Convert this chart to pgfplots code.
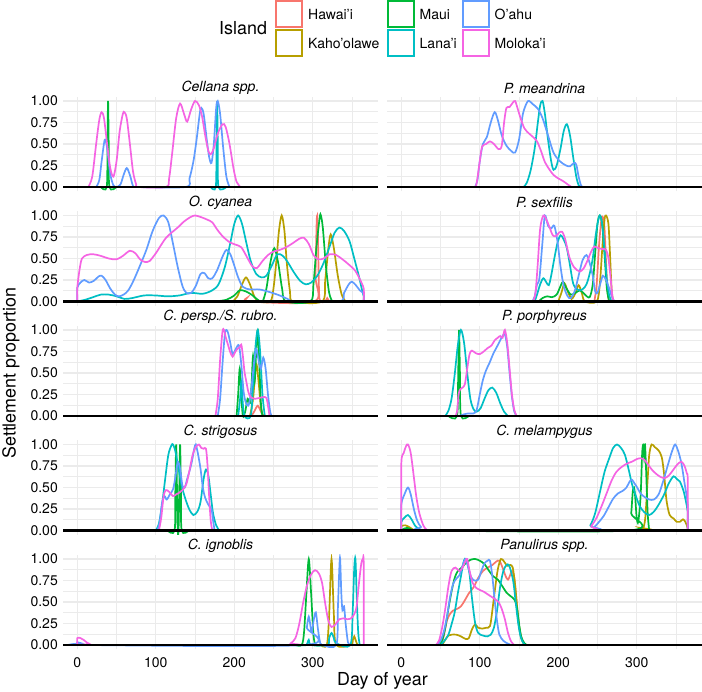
\documentclass[border=0pt]{standalone}
\usepackage{fontspec}
\setmainfont{TeX Gyre Heros}
\usepackage{pgfplots}
\pgfplotsset{compat=1.18}

\definecolor{cHaw}{HTML}{F8766D}
\definecolor{cKah}{HTML}{B79F00}
\definecolor{mauigreen}{HTML}{00BA38}
\definecolor{cLan}{HTML}{00BFC4}
\definecolor{cOah}{HTML}{619CFF}
\definecolor{cMol}{HTML}{F564E3}
\definecolor{gridc}{HTML}{EBEBEB}

\newcommand\tickfont{\fontsize{14}{16}\selectfont}
\newcommand\bigfont{\fontsize{17.9}{20}\selectfont}

\pgfplotsset{
  panel/.style={
    scale only axis, width=315pt, height=94.6pt, anchor=south west,
    xmin=-18.25, xmax=383.25, ymin=-0.05, ymax=1.05,
    axis line style={draw=none}, tick style={draw=none},
    xtick={0,100,200,300}, minor xtick={50,150,250,350},
    ytick={0,0.25,0.5,0.75,1}, minor ytick={0.125,0.375,0.625,0.875},
    xticklabels={}, yticklabels={},
    grid=both,
    major grid style={line width=1.1pt, gridc},
    minor grid style={line width=0.55pt, gridc},
    every axis title shift=0pt,
    title style={at={(0.5,1)}, anchor=center, yshift=8.5pt, font=\tickfont\itshape},
    every axis plot/.append style={line width=1.7pt, smooth, no markers},
  },
  leftcol/.style={yticklabels={0.00,0.25,0.50,0.75,1.00},
    yticklabel style={font=\tickfont, inner sep=0pt, anchor=east, xshift=-5pt}},
  botrow/.style={xticklabels={0,100,200,300},
    xticklabel style={font=\tickfont, inner sep=0pt, anchor=north, yshift=-8.5pt}},
  zeroline/.style={black, line width=2.6pt, sharp plot},
}

\begin{document}
\begin{tikzpicture}
\useasboundingbox (0,0) rectangle (702pt,692pt);

% ---- legend ----
\node[font=\bigfont, anchor=west, inner sep=0pt] at (219pt,663.5pt) {Island};
\fill[cHaw] (275pt,663.5pt) rectangle ++(28pt,28pt);
\fill[cKah] (275pt,634.5pt) rectangle ++(28pt,28pt);
\fill[mauigreen] (386.5pt,663.5pt) rectangle ++(28pt,28pt);
\fill[cLan] (386.5pt,634.5pt) rectangle ++(28pt,28pt);
\fill[cOah] (461.5pt,663.5pt) rectangle ++(28pt,28pt);
\fill[cMol] (461.5pt,634.5pt) rectangle ++(28pt,28pt);
\fill[white] (277pt,665.5pt) rectangle ++(24pt,24pt);
\fill[white] (277pt,636.5pt) rectangle ++(24pt,24pt);
\fill[white] (388.5pt,665.5pt) rectangle ++(24pt,24pt);
\fill[white] (388.5pt,636.5pt) rectangle ++(24pt,24pt);
\fill[white] (463.5pt,665.5pt) rectangle ++(24pt,24pt);
\fill[white] (463.5pt,636.5pt) rectangle ++(24pt,24pt);
\node[font=\tickfont, anchor=west, inner sep=0pt] at (308pt,677.5pt) {Hawai'i};
\node[font=\tickfont, anchor=west, inner sep=0pt] at (308pt,648.5pt) {Kaho'olawe};
\node[font=\tickfont, anchor=west, inner sep=0pt] at (419.5pt,677.5pt) {Maui};
\node[font=\tickfont, anchor=west, inner sep=0pt] at (419.5pt,648.5pt) {Lana'i};
\node[font=\tickfont, anchor=west, inner sep=0pt] at (494.5pt,677.5pt) {O'ahu};
\node[font=\tickfont, anchor=west, inner sep=0pt] at (494.5pt,648.5pt) {Moloka'i};

% ---- row 1 ----
\begin{axis}[panel, leftcol, at={(63pt,500.7pt)}, title={Cellana spp.}]
\addplot[mauigreen] coordinates {(30,0)(37.5,0)(38.4,0.5)(39.2,1.0)(40,0.5)(40.9,0)(50,0)};
\addplot[cLan] coordinates {(170,0)(176.5,0)(177.4,0.5)(178.2,1.0)(179,0.5)(179.9,0)(190,0)};
\addplot[cOah] coordinates {(24,0)(28,0.08)(31,0.3)(35,0.55)(38,0.45)(42,0.15)(46,0.02)(50,0)(55,0.03)(59,0.14)(63,0.22)(67,0.14)(71,0.01)(74,0)(138,0)(143,0.1)(148,0.3)(152,0.55)(156,0.85)(158,0.92)(161,0.85)(165,0.55)(168,0.35)(171,0.28)(174,0.5)(177,0.92)(179,1.0)(182,0.85)(186,0.45)(190,0.12)(194,0)};
\addplot[cMol] coordinates {(14,0)(19,0.12)(24,0.5)(28,0.78)(31,0.87)(34,0.8)(38,0.5)(42,0.22)(46,0.12)(50,0.3)(54,0.65)(58,0.85)(60,0.87)(63,0.8)(67,0.5)(71,0.18)(75,0.03)(78,0)(113,0)(117,0.1)(121,0.4)(126,0.8)(131,0.97)(136,0.85)(140,0.76)(145,0.9)(150,1.0)(155,0.95)(159,0.82)(163,0.6)(167,0.42)(170,0.38)(174,0.45)(179,0.62)(185,0.73)(189,0.7)(194,0.5)(199,0.22)(203,0.06)(208,0)};
\addplot[zeroline] coordinates {(-18.25,0)(383.25,0)};
\end{axis}

\begin{axis}[panel, at={(387pt,500.7pt)}, title={P. meandrina}]
\addplot[cLan] coordinates {(156,0)(160,0.05)(165,0.2)(170,0.45)(174,0.75)(177,0.95)(180,1.0)(183,0.85)(187,0.55)(191,0.3)(194,0.2)(198,0.25)(203,0.45)(207,0.65)(211,0.73)(215,0.6)(219,0.35)(223,0.12)(226,0.02)(229,0)};
\addplot[cOah] coordinates {(94,0)(97,0.08)(100,0.3)(104,0.5)(109,0.58)(114,0.75)(119,0.87)(123,0.78)(128,0.6)(134,0.48)(140,0.42)(145,0.4)(150,0.55)(155,0.85)(160,0.98)(163,1.0)(168,0.96)(174,0.91)(180,0.8)(187,0.6)(194,0.4)(202,0.3)(210,0.25)(215,0.24)(220,0.28)(223,0.26)(226,0.12)(229,0.02)(231,0)};
\addplot[cMol] coordinates {(95,0)(97,0.1)(100,0.3)(103,0.47)(108,0.5)(113,0.53)(118,0.5)(124,0.44)(128,0.48)(131,0.75)(134,0.92)(138,0.93)(142,0.98)(145,1.0)(148,0.92)(152,0.8)(157,0.68)(163,0.62)(168,0.58)(173,0.53)(178,0.42)(183,0.29)(189,0.2)(194,0.14)(200,0.1)(206,0.07)(212,0.03)(217,0)};
\addplot[zeroline] coordinates {(-18.25,0)(383.25,0)};
\end{axis}

% ---- row 2 ----
\begin{axis}[panel, leftcol, at={(63pt,386.2pt)}, title={O. cyanea}]
\addplot[cHaw] coordinates {(213,0)(216,0.04)(219,0)(302,0)(303.5,0.3)(305,0.9)(305.8,1.0)(306.6,0.8)(308,0.15)(309.5,0)(316,0)(318.5,0.04)(321,0)};
\addplot[cKah] coordinates {(198,0)(204,0.06)(210,0.2)(215,0.28)(220,0.2)(226,0.05)(232,0)(246,0)(250,0.15)(254,0.5)(257,0.82)(260.5,1.0)(264,0.82)(267,0.45)(271,0.12)(275,0)(312,0)(316,0.25)(320,0.62)(323,0.78)(327,0.62)(332,0.3)(337,0.08)(342,0)};
\addplot[mauigreen] coordinates {(176,0)(190,0.02)(200,0.07)(207,0.13)(214,0.12)(222,0.08)(230,0.02)(236,0)(241,0.15)(246,0.45)(251,0.62)(256,0.45)(261,0.15)(266,0)(297,0)(301,0.2)(305,0.65)(309,0.98)(310.5,1.0)(313,0.85)(317,0.4)(321,0.1)(325,0)};
\addplot[cLan] coordinates {(0,0)(10,0.02)(20,0.05)(30,0.08)(40,0.08)(50,0.06)(60,0.03)(70,0.04)(85,0.07)(100,0.07)(115,0.06)(130,0.07)(145,0.1)(160,0.09)(172,0.13)(180,0.2)(188,0.4)(195,0.68)(200,0.9)(205,1.0)(210,0.9)(215,0.7)(221,0.47)(228,0.32)(235,0.28)(241,0.3)(248,0.42)(255,0.55)(262,0.53)(268,0.46)(276,0.34)(284,0.24)(291,0.2)(298,0.22)(306,0.3)(314,0.45)(322,0.65)(328,0.8)(334,0.86)(340,0.82)(347,0.7)(353,0.5)(359,0.29)(363,0.13)(365,0.06)(365,0)};
\addplot[cOah] coordinates {(0,0)(0,0.16)(4,0.22)(9,0.25)(15,0.22)(21,0.24)(27,0.29)(31,0.3)(36,0.25)(42,0.15)(48,0.08)(53,0.06)(59,0.08)(65,0.13)(72,0.25)(80,0.42)(88,0.6)(96,0.82)(104,0.97)(110,1.0)(116,0.92)(122,0.67)(128,0.4)(134,0.18)(139,0.1)(145,0.1)(151,0.18)(157,0.32)(162,0.33)(167,0.27)(172,0.27)(178,0.36)(185,0.52)(190,0.6)(195,0.55)(200,0.42)(205,0.28)(211,0.17)(220,0.14)(232,0.14)(245,0.11)(258,0.07)(268,0.03)(278,0)(334,0)(340,0.1)(346,0.2)(350,0.23)(355,0.19)(360,0.13)(365,0.09)(365,0)};
\addplot[cMol] coordinates {(0,0)(0,0.16)(3,0.38)(6,0.5)(12,0.54)(20,0.55)(30,0.53)(40,0.5)(50,0.49)(58,0.53)(67,0.59)(74,0.56)(80,0.49)(86,0.46)(92,0.47)(100,0.56)(107,0.66)(113,0.74)(120,0.8)(128,0.86)(136,0.93)(144,0.98)(150,1.0)(158,0.98)(166,0.95)(172,0.92)(178,0.84)(185,0.76)(194,0.69)(202,0.66)(209,0.63)(216,0.52)(223,0.41)(229,0.39)(236,0.47)(243,0.54)(250,0.58)(258,0.6)(266,0.63)(275,0.68)(283,0.73)(289,0.74)(295,0.67)(301,0.54)(307,0.49)(314,0.5)(322,0.55)(330,0.54)(338,0.49)(346,0.43)(354,0.36)(360,0.26)(365,0.15)(365,0)};
\addplot[zeroline] coordinates {(-18.25,0)(383.25,0)};
\end{axis}

\begin{axis}[panel, at={(387pt,386.2pt)}, title={P. sexfilis}]
\addplot[cHaw] coordinates {(246,0)(249,0.2)(252,0.65)(255,0.95)(257,0.98)(259,0.85)(261,0.45)(263,0.1)(265,0)};
\addplot[cKah] coordinates {(200,0)(204,0.1)(208,0.21)(212,0.12)(217,0.03)(222,0.1)(226,0.19)(230,0.1)(234,0)(249,0)(253,0.2)(256,0.6)(259,0.95)(261,1.0)(264,0.9)(266,0.55)(268,0.15)(270,0)};
\addplot[mauigreen] coordinates {(175,0)(180,0.04)(186,0.06)(192,0.05)(198,0.08)(203,0.18)(206,0.23)(210,0.16)(216,0.08)(222,0.1)(228,0.13)(234,0.08)(240,0.05)(244,0.2)(247,0.55)(250,0.9)(253,1.0)(256,0.9)(259,0.55)(262,0.15)(265,0)};
\addplot[cLan] coordinates {(170,0)(173,0.08)(177,0.2)(181,0.27)(185,0.22)(188,0.19)(191,0.3)(195,0.5)(199,0.68)(203,0.77)(207,0.72)(211,0.62)(215,0.42)(219,0.21)(224,0.14)(228,0.13)(232,0.15)(236,0.2)(240,0.32)(244,0.5)(247,0.72)(250,0.9)(253,1.0)(256,0.9)(259,0.6)(262,0.25)(265,0.07)(268,0)};
\addplot[cOah] coordinates {(167,0)(170,0.06)(173,0.2)(176,0.27)(180,0.7)(183,1.0)(187,0.88)(191,0.85)(195,0.88)(199,0.7)(203,0.4)(207,0.18)(212,0.06)(216,0.04)(221,0.12)(226,0.3)(231,0.48)(236,0.54)(240,0.45)(244,0.3)(247,0.12)(250,0.1)(254,0.22)(257,0.3)(261,0.25)(265,0.15)(269,0.04)(272,0)};
\addplot[cMol] coordinates {(168,0)(171,0.1)(174,0.45)(177,0.85)(181,1.0)(185,0.95)(189,0.86)(193,0.77)(197,0.76)(201,0.8)(205,0.81)(209,0.72)(214,0.52)(220,0.4)(227,0.35)(232,0.38)(237,0.47)(242,0.58)(246,0.64)(251,0.62)(256,0.61)(261,0.6)(264,0.5)(267,0.25)(269,0.06)(271,0)};
\addplot[zeroline] coordinates {(-18.25,0)(383.25,0)};
\end{axis}

% ---- row 3 ----
\begin{axis}[panel, leftcol, at={(63pt,271.7pt)}, title={C. persp./S. rubro.}]
\addplot[cHaw] coordinates {(222,0)(226,0.06)(230,0.12)(234,0.05)(237,0)};
\addplot[cKah] coordinates {(220,0)(224,0.2)(228,0.6)(231,0.4)(234,0.1)(237,0)};
\addplot[mauigreen] coordinates {(203,0)(205,0.25)(207,0.55)(209,0.25)(211,0)(214,0.05)(217,0.2)(220,0.15)(222,0.35)(224,0.7)(226,0.4)(228,0.75)(230,1.0)(232,0.6)(234,0.15)(236,0)};
\addplot[cLan] coordinates {(205,0)(207.5,0.2)(209,0.4)(210.5,0.2)(213,0)(221,0)(224,0.35)(227,0.8)(230,1.0)(233,0.75)(236,0.25)(239,0)};
\addplot[cOah] coordinates {(179,0)(182,0.2)(185,0.6)(188,0.95)(190,1.0)(192,0.97)(195,0.85)(198,0.72)(202,0.78)(206,0.82)(209,0.6)(212,0.28)(215,0.15)(218,0.12)(221,0.25)(225,0.6)(228,0.78)(231,0.65)(234,0.55)(237,0.68)(240,0.55)(243,0.25)(246,0.04)(248,0)};
\addplot[cMol] coordinates {(176,0)(179,0.2)(182,0.65)(185,0.98)(187,1.0)(189,0.92)(192,0.83)(195,0.74)(198,0.69)(201,0.74)(204,0.78)(207,0.8)(209,0.83)(211,0.7)(213,0.52)(215,0.42)(218,0.28)(221,0.22)(226,0.2)(232,0.21)(237,0.22)(241,0.21)(243,0.12)(245,0)};
\addplot[zeroline] coordinates {(-18.25,0)(383.25,0)};
\end{axis}

\begin{axis}[panel, at={(387pt,271.7pt)}, title={P. porphyreus}]
\addplot[mauigreen] coordinates {(60,0)(71,0)(72.5,0.5)(73.6,1.0)(74.7,0.5)(76,0)(86,0)};
\addplot[cLan] coordinates {(56,0)(60,0.06)(64,0.2)(68,0.48)(72,0.82)(76,1.0)(80,0.85)(84,0.5)(88,0.2)(92,0.08)(96,0.05)(101,0.09)(106,0.2)(111,0.3)(116,0.33)(121,0.27)(126,0.15)(131,0.05)(136,0)};
\addplot[cOah] coordinates {(74,0)(80,0.02)(86,0.03)(92,0.03)(96,0.07)(100,0.25)(104,0.42)(108,0.53)(113,0.63)(117,0.72)(121,0.79)(125,0.86)(129,0.93)(132,0.95)(135,0.8)(138,0.5)(141,0.22)(144,0.05)(147,0)};
\addplot[cMol] coordinates {(69,0)(71,0.05)(73,0.25)(75,0.31)(78,0.33)(81,0.37)(84,0.55)(87,0.72)(90,0.76)(95,0.73)(100,0.72)(105,0.75)(110,0.79)(115,0.82)(119,0.88)(123,0.91)(126,0.93)(129,0.91)(132,1.0)(135,0.85)(138,0.55)(141,0.25)(144,0.07)(147,0)};
\addplot[zeroline] coordinates {(-18.25,0)(383.25,0)};
\end{axis}

% ---- row 4 ----
\begin{axis}[panel, leftcol, at={(63pt,157.2pt)}, title={C. strigosus}]
\addplot[mauigreen] coordinates {(115,0)(124,0)(125,0.5)(126,1.0)(127,0.5)(128,0)(129,0)(130,0.5)(131,1.0)(132,0.5)(133,0)(142,0)};
\addplot[cLan] coordinates {(100,0)(104,0.08)(108,0.3)(112,0.6)(116,0.88)(120,0.99)(122,1.0)(125,0.92)(129,0.72)(133,0.52)(138,0.36)(143,0.24)(148,0.18)(153,0.22)(157,0.33)(161,0.6)(164,0.71)(167,0.64)(170,0.42)(173,0.2)(177,0.06)(181,0)};
\addplot[cOah] coordinates {(102,0)(105,0.1)(108,0.32)(111,0.4)(114,0.36)(118,0.42)(122,0.48)(125,0.62)(128,0.8)(131,0.72)(134,0.52)(137,0.5)(140,0.6)(143,0.69)(146,0.8)(149,0.95)(151,1.0)(154,0.88)(157,0.72)(160,0.5)(163,0.38)(167,0.3)(171,0.25)(173,0.12)(175,0)};
\addplot[cMol] coordinates {(104,0)(107,0.15)(110,0.4)(113,0.47)(117,0.45)(122,0.4)(126,0.42)(130,0.44)(134,0.47)(139,0.54)(143,0.7)(147,0.88)(151,0.97)(155,1.0)(158,0.96)(161,0.95)(164,0.95)(166,0.75)(168,0.4)(170,0.12)(172,0)};
\addplot[zeroline] coordinates {(-18.25,0)(383.25,0)};
\end{axis}

\begin{axis}[panel, at={(387pt,157.2pt)}, title={C. melampygus}]
\addplot[cKah] coordinates {(0,0)(0,0.05)(5,0.06)(10,0.04)(15,0.01)(18,0)(300,0)(304,0.03)(308,0.02)(311,0.15)(314,0.6)(316,0.88)(319,1.0)(323,0.97)(328,0.93)(332,0.85)(335,0.65)(338,0.35)(342,0.18)(347,0.14)(351,0.1)(355,0.1)(359,0.13)(362,0.1)(365,0.03)(365,0)};
\addplot[mauigreen] coordinates {(0,0)(3,0.02)(8,0.03)(13,0.01)(18,0)(290,0)(293,0.2)(295,0.45)(296.6,0.5)(298,0.4)(300,0.15)(302,0.1)(305,0.4)(307,0.9)(308.5,1.0)(309.5,0.85)(310.6,1.0)(312,0.7)(314,0.2)(316,0)};
\addplot[cLan] coordinates {(0,0)(0,0.1)(4,0.15)(8.5,0.18)(13,0.13)(18,0.05)(24,0.01)(28,0)(235,0)(241,0.06)(247,0.2)(253,0.44)(259,0.68)(265,0.84)(270,0.96)(275,1.0)(280,0.96)(285,0.88)(290,0.7)(294,0.54)(299,0.4)(304,0.28)(310,0.21)(316,0.18)(322,0.22)(328,0.3)(335,0.42)(341,0.55)(347,0.63)(351,0.6)(355,0.57)(360,0.45)(364,0.28)(365,0.22)(365,0)};
\addplot[cOah] coordinates {(0,0)(0,0.3)(4,0.42)(8.5,0.5)(12,0.42)(16,0.25)(20,0.12)(25,0.04)(31,0)(240,0)(246,0.04)(252,0.1)(258,0.17)(264,0.27)(270,0.37)(276,0.43)(282,0.46)(287,0.5)(291,0.57)(294,0.59)(297,0.55)(300,0.51)(305,0.43)(310,0.39)(316,0.36)(322,0.36)(328,0.42)(334,0.58)(340,0.77)(345,0.92)(349,1.0)(353,0.92)(357,0.78)(361,0.55)(365,0.3)(365,0)};
\addplot[cMol] coordinates {(0,0)(0,0.78)(3,0.9)(6,0.98)(8.5,1.0)(12,0.9)(16,0.62)(19,0.4)(23,0.2)(28,0.06)(32,0.01)(36,0)(236,0)(242,0.05)(249,0.15)(256,0.3)(262,0.44)(268,0.58)(274,0.68)(281,0.74)(288,0.78)(294,0.8)(300,0.83)(305,0.84)(310,0.82)(315,0.76)(320,0.7)(326,0.65)(331,0.62)(336,0.61)(341,0.64)(347,0.71)(352,0.77)(357,0.8)(361,0.75)(364,0.66)(365,0.6)(365,0)};
\addplot[zeroline] coordinates {(-18.25,0)(383.25,0)};
\end{axis}

% ---- row 5 ----
\begin{axis}[panel, leftcol, botrow, at={(63pt,42.7pt)}, title={C. ignoblis}]
\addplot[cKah] coordinates {(310,0)(318,0)(321,0.35)(324,1.0)(327,0.35)(330,0)(349,0)(351,0.05)(353,0.1)(355,0.05)(357,0)};
\addplot[mauigreen] coordinates {(278,0)(286,0)(289,0.15)(292,0.6)(295,1.0)(298,0.6)(301,0.12)(304,0)(312,0)};
\addplot[cLan] coordinates {(285,0)(292,0)(295,0.06)(298,0)(319,0)(321,0.08)(324,0.14)(327,0.08)(330,0.02)(348,0)(351,0.4)(353,0.9)(354.5,1.0)(356,0.6)(358,0.15)(360,0)};
\addplot[cOah] coordinates {(0,0)(0,0.03)(5,0.02)(10,0)(290,0)(292.5,0.2)(295,0.33)(297.5,0.2)(299,0.15)(301.5,0.3)(304,0.38)(306.5,0.2)(309,0.05)(312,0)(330,0)(332,0.4)(334,0.9)(335,1.0)(336.5,0.6)(338,0.4)(340,0.45)(342,0.25)(345,0.03)(348,0)};
\addplot[cMol] coordinates {(0,0)(0,0.08)(4,0.08)(8,0.06)(12,0.03)(16,0.01)(19,0)(266,0)(272,0.02)(278,0.08)(283,0.25)(288,0.5)(293,0.7)(298,0.82)(303,0.87)(308,0.83)(312,0.72)(316,0.48)(320,0.28)(324,0.21)(329,0.24)(334,0.3)(339,0.31)(344,0.3)(349,0.31)(353,0.36)(356,0.45)(359,0.72)(362,0.95)(364,1.0)(365,0.95)(365,0)};
\addplot[zeroline] coordinates {(-18.25,0)(383.25,0)};
\end{axis}

\begin{axis}[panel, botrow, at={(387pt,42.7pt)}, title={Panulirus spp.}]
\addplot[cHaw] coordinates {(50,0)(54,0.1)(58,0.28)(62,0.36)(66,0.4)(71,0.42)(76,0.45)(81,0.52)(86,0.6)(92,0.67)(98,0.78)(104,0.86)(110,0.9)(116,0.93)(121,0.97)(125,0.98)(129,0.9)(133,0.8)(136,0.76)(139,0.82)(141,0.86)(144,0.78)(147,0.5)(150,0.22)(154,0.06)(158,0)};
\addplot[cKah] coordinates {(52,0)(56,0.06)(60,0.11)(64,0.12)(70,0.12)(76,0.1)(82,0.07)(86,0.08)(90,0.18)(94,0.24)(98,0.2)(103,0.19)(108,0.2)(113,0.22)(116,0.4)(119,0.62)(123,0.88)(127,1.0)(131,0.97)(135,0.92)(139,0.93)(142,0.9)(145,0.7)(148,0.4)(151,0.16)(154,0.05)(157,0)};
\addplot[mauigreen] coordinates {(48,0)(52,0.05)(56,0.2)(60,0.42)(64,0.62)(68,0.78)(72,0.86)(77,0.9)(82,0.95)(88,0.99)(94,1.0)(100,0.98)(106,0.94)(112,0.86)(117,0.8)(123,0.76)(129,0.68)(134,0.61)(139,0.57)(144,0.53)(147,0.45)(150,0.25)(153,0.09)(157,0.02)(160,0)};
\addplot[cLan] coordinates {(50,0)(55,0.05)(60,0.12)(64,0.24)(68,0.38)(72,0.6)(76,0.8)(79,0.95)(81,1.0)(84,0.95)(87,0.82)(90,0.55)(94,0.26)(98,0.14)(104,0.11)(110,0.1)(114,0.12)(118,0.2)(122,0.4)(126,0.68)(130,0.86)(134,0.93)(137,0.93)(140,0.85)(143,0.72)(146,0.48)(149,0.25)(152,0.1)(155,0.03)(158,0)};
\addplot[cOah] coordinates {(46,0)(50,0.05)(54,0.15)(58,0.32)(62,0.55)(66,0.71)(70,0.77)(74,0.81)(78,0.92)(82,1.0)(86,0.88)(89,0.79)(93,0.75)(98,0.76)(102,0.86)(106,0.95)(110,0.98)(113,0.98)(116,0.8)(119,0.52)(122,0.28)(125,0.12)(130,0.05)(135,0.02)(140,0)};
\addplot[cMol] coordinates {(44,0)(48,0.05)(52,0.2)(56,0.42)(60,0.68)(64,0.86)(69,0.9)(74,0.86)(78,0.9)(82,0.98)(84,1.0)(87,0.86)(91,0.72)(96,0.66)(100,0.64)(105,0.62)(110,0.59)(115,0.56)(120,0.53)(124,0.5)(128,0.42)(132,0.3)(136,0.14)(140,0.04)(144,0)};
\addplot[zeroline] coordinates {(-18.25,0)(383.25,0)};
\end{axis}

% ---- axis titles ----
\node[font=\bigfont] at (382.5pt,11pt) {Day of year};
\node[font=\bigfont, rotate=90] at (11pt,319pt) {Settlement proportion};
\end{tikzpicture}
\end{document}
